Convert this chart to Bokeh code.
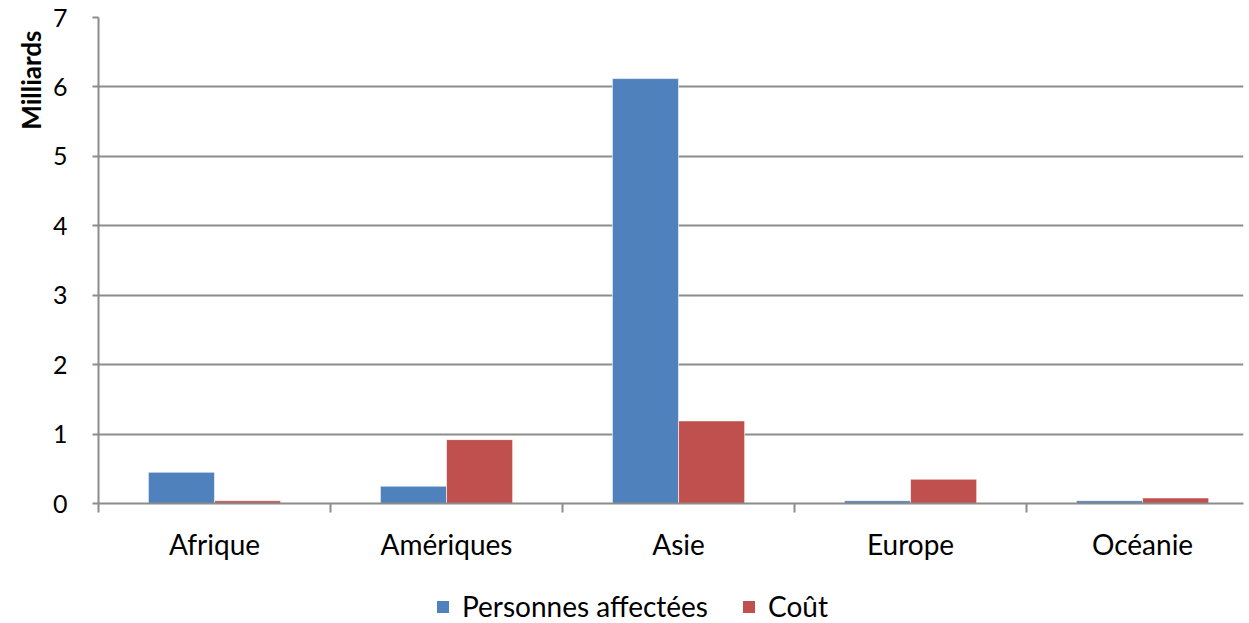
import numpy as np
from bokeh.plotting import figure
from bokeh.layouts import column
from bokeh.models import FixedTicker, Range1d, Legend, LegendItem, Title
from bokeh.embed import file_html
from bokeh.resources import INLINE

categories = ["Afrique", "Amériques", "Asie", "Europe", "Océanie"]
personnes = [0.45, 0.25, 6.12, 0.04, 0.04]
cout = [0.04, 0.92, 1.19, 0.35, 0.08]
y_ticks = [0, 1, 2, 3, 4, 5, 6, 7]
series_names = ["Personnes affectées", "Coût"]
y_title = "Milliards"

FONT = "Lato"
GRID = "#8c8c8c"
BLUE = "#4F81BD"
RED = "#C0504D"

centers = np.arange(len(categories)) + 0.5
bw = 0.285

p = figure(width=1245, height=575, output_backend="svg", toolbar_location=None,
           x_range=Range1d(0, 4.935), y_range=Range1d(0, 7),
           min_border_left=98, min_border_right=2, min_border_top=17, min_border_bottom=72)
p.outline_line_color = None

p.vbar(x=centers - bw / 2, top=personnes, width=bw, fill_color=BLUE,
       line_color="#ffffff", line_alpha=0.6, line_width=1)
p.vbar(x=centers + bw / 2, top=cout, width=bw, fill_color=RED,
       line_color="#ffffff", line_alpha=0.6, line_width=1)

# x axis
p.xaxis.ticker = FixedTicker(ticks=list(centers), minor_ticks=list(range(len(categories) + 1)))
p.xaxis.major_label_overrides = {float(c): n for c, n in zip(centers, categories)}
p.xaxis.major_tick_line_color = None
p.xaxis.minor_tick_line_color = GRID
p.xaxis.minor_tick_line_width = 2
p.xaxis.minor_tick_out = 9
p.xaxis.minor_tick_in = 0
p.xaxis.axis_line_color = GRID
p.xaxis.axis_line_width = 2
p.xaxis.major_label_standoff = 14
p.xaxis.major_label_text_font = FONT
p.xaxis.major_label_text_font_size = "28px"
p.xaxis.major_label_text_color = "#000000"
p.xgrid.grid_line_color = None

# y axis
p.yaxis.ticker = FixedTicker(ticks=y_ticks)
p.yaxis.minor_tick_line_color = None
p.yaxis.major_tick_line_color = GRID
p.yaxis.major_tick_line_width = 2
p.yaxis.major_tick_out = 6
p.yaxis.major_tick_in = 0
p.yaxis.axis_line_color = GRID
p.yaxis.axis_line_width = 2
p.yaxis.major_label_standoff = 25
p.yaxis.major_label_text_font = FONT
p.yaxis.major_label_text_font_size = "25px"
p.yaxis.major_label_text_color = "#000000"
p.ygrid.grid_line_color = GRID
p.ygrid.grid_line_width = 2

ytitle = Title(text=y_title, align="right", offset=13, standoff=6,
               text_font=FONT, text_font_size="26px", text_font_style="bold",
               text_color="#000000")
p.add_layout(ytitle, "left")

# legend strip below the chart (zero-size proxy glyphs, only their legend swatches show)
q = figure(width=1245, height=48, output_backend="svg", toolbar_location=None,
           x_range=Range1d(0, 1), y_range=Range1d(0, 1),
           x_axis_location=None, y_axis_location=None, min_border=0)
q.outline_line_color = None
q.grid.grid_line_color = None
lr1 = q.vbar(x=[0], top=[0], width=0, fill_color=BLUE, line_color=None)
lr2 = q.vbar(x=[0], top=[0], width=0, fill_color=RED, line_color=None)
legend = Legend(items=[LegendItem(label=series_names[0], renderers=[lr1]),
                       LegendItem(label=series_names[1], renderers=[lr2])],
                orientation="horizontal", location=(337, 0),
                label_text_font=FONT, label_text_font_size="28px",
                label_text_color="#000000",
                glyph_width=15, glyph_height=15, spacing=33, label_standoff=12,
                border_line_color=None, background_fill_alpha=0,
                margin=0, padding=0)
q.add_layout(legend, "center")

layout = column(p, q, spacing=0)
open("out.html", "w").write(file_html(layout, INLINE))
